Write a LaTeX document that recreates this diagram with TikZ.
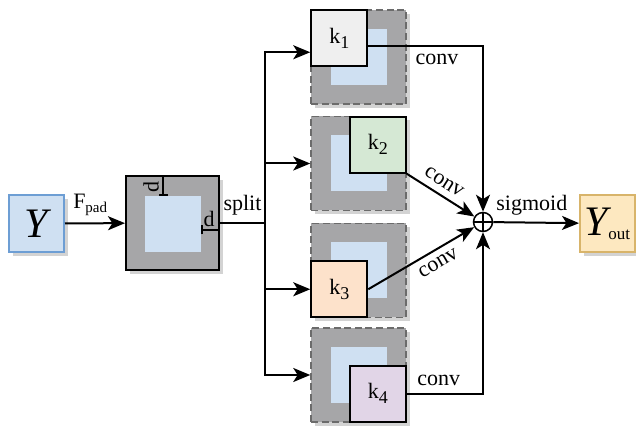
\documentclass[tikz,border=0pt]{standalone}
\usepackage{fontspec}
\setmainfont{Liberation Serif}
\usetikzlibrary{arrows.meta, positioning, shadows}
\definecolor{lightblue}{HTML}{CFE0F2}
\definecolor{yblue}{HTML}{6D9ED4}
\definecolor{padgray}{HTML}{A6A6A8}
\definecolor{dashgray}{HTML}{6B6B6B}
\definecolor{shadowgray}{HTML}{D3D3D3}
\definecolor{kgray}{HTML}{EFEFEF}
\definecolor{kgreen}{HTML}{D5E8D4}
\definecolor{kpeach}{HTML}{FDE2CB}
\definecolor{kpurple}{HTML}{E1D5E7}
\definecolor{outfill}{HTML}{FDE8C0}
\definecolor{outdraw}{HTML}{D8B46A}
\newcommand{\ksub}[1]{k\raisebox{-2.5pt}{\fontsize{9}{10}\selectfont #1}}

\begin{document}
\begin{tikzpicture}[x=0.5pt, y=-0.5pt,
  >={Stealth[length=8.5pt, width=7pt, inset=2.2pt]},
  font=\fontsize{11}{13}\selectfont,
  shade box/.style={drop shadow={shadow xshift=2pt, shadow yshift=-2pt,
    fill=shadowgray, opacity=1}},
  iobox/.style={draw, line width=1pt, inner sep=0pt, minimum width=27.5pt,
    minimum height=28.5pt, shade box},
  padbox/.style={draw, line width=1pt, fill=padgray, minimum width=46.5pt,
    minimum height=47pt, shade box},
  dbox/.style={draw=dashgray, dashed, dash pattern=on 3.5pt off 1.8pt,
    line width=0.75pt, fill=padgray, minimum width=47.5pt,
    minimum height=47pt, shade box},
  inbox/.style={fill=lightblue, minimum size=28pt, inner sep=0pt},
  kbox/.style={draw, line width=1pt, minimum size=28pt, inner sep=0pt},
  sumnode/.style={circle, draw, line width=0.75pt, minimum size=9.5pt,
    inner sep=0pt, path picture={
      \draw[line width=0.75pt] (path picture bounding box.north) -- (path picture bounding box.south)
        (path picture bounding box.west) -- (path picture bounding box.east);}},
  flow/.style={->, line width=1pt},
  dimbar/.style={{Bar[width=4.5pt]}-{Bar[width=4.5pt]}, line width=1pt}
]
  \useasboundingbox (0,0) rectangle (636,426);
  % input
  \node[iobox, draw=yblue, fill=lightblue] (Y) at (36.5,223.5)
    {\fontsize{21}{24}\selectfont\itshape Y};
  % padded feature map
  \node[padbox] (pad) at (172.5,223) {};
  \node[inbox] (padin) at (173,224) {};
  \draw[dimbar] ([xshift=-5pt]padin.north) -- ([xshift=-5pt]padin.north |- pad.north);
  \draw[dimbar] ([yshift=-3pt]padin.east) -- ([yshift=-3pt]padin.east -| pad.east);
  \node[rotate=90] (dv) at (151,187) {d};
  \node (dh) at (209,219) {d};
  % split branches
  \node[dbox] (d1) at (358.5,57) {};
  \node[inbox] (in1) at (d1) {};
  \node[kbox, fill=kgray, anchor=north west] (k1) at (d1.north west) {\ksub{1}};
  \node[dbox] (d2) at (358.5,163.5) {};
  \node[inbox] (in2) at (d2) {};
  \node[kbox, fill=kgreen, anchor=north east] (k2) at (d2.north east) {\ksub{2}};
  \node[dbox] (d3) at (358.5,270.5) {};
  \node[inbox] (in3) at (d3) {};
  \node[kbox, fill=kpeach, anchor=south west] (k3) at (d3.south west) {\ksub{3}};
  \node[dbox] (d4) at (358.5,375) {};
  \node[inbox] (in4) at (d4) {};
  \node[kbox, fill=kpurple, anchor=south east] (k4) at (d4.south east) {\ksub{4}};
  % sum and output
  \node[sumnode] (sum) at (483,222) {};
  \node[iobox, draw=outdraw, fill=outfill] (Yout) at (607.5,223.5)
    {{\fontsize{21}{24}\selectfont\itshape Y}\raisebox{-2pt}{\fontsize{8.5}{10}\selectfont out}};
  % connectors
  \coordinate (split) at (265,223);
  \draw[flow] (Y) -- node[above, pos=0.42]
    {F\raisebox{-2pt}{\fontsize{7.5}{9}\selectfont pad}} (pad);
  \draw[line width=1pt] (pad) -- node[above] {split} (split);
  \draw[flow] (split) |- ([yshift=-7pt]k1.west);
  \draw[flow] (split) |- (d2);
  \draw[flow] (split) |- (k3);
  \draw[flow] (split) |- (d4);
  \draw[flow] ([yshift=-4pt]k1.east) -| node[below, pos=0.3] {conv} (sum);
  \draw[flow] (k2.south east) -- node[above, sloped, pos=0.45] {conv} (sum);
  \draw[flow] (k3.east) -- node[below, sloped, pos=0.6] {conv} (sum);
  \draw[flow] (k4.east) -| node[above, pos=0.21] {conv} (sum);
  \draw[flow] (sum) -- node[above, pos=0.45] {sigmoid} (Yout);
\end{tikzpicture}
\end{document}
